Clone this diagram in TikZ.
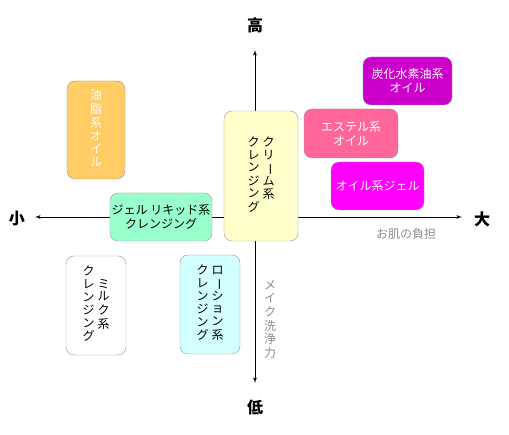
\documentclass[tikz,border=0pt]{standalone}
\usepackage{fontspec}
\setmainfont{Noto Sans CJK JP}
\usepackage{graphicx}
\usetikzlibrary{arrows}

\newcommand{\tate}[1]{{\def\arraystretch{0.9}\begin{tabular}{@{}c@{}}#1\end{tabular}}}
\newcommand{\nobashi}{\rotatebox[origin=c]{-90}{ー}}

\begin{document}
\begin{tikzpicture}[x=1pt,y=-1pt]

\tikzset{box/.style = {draw=black!40, rounded corners=8pt, inner sep=0pt, align=center, font=\fontsize{12}{14}\selectfont}}
\tikzset{axis/.style = {<->,> = latex', line width=0.9pt}}
\tikzset{end/.style = {font=\fontsize{16}{16}\selectfont\bfseries}}
\tikzset{note/.style = {text=black!45, align=center, font=\fontsize{12}{14}\selectfont}}
\useasboundingbox (0,0) rectangle (509,435);
%axes
\coordinate (up) at (255,50);
\coordinate (down) at (255,383);
\coordinate (left) at (35,217);
\coordinate (right) at (462,217);
\draw [axis] (down) -- (up);
\draw [axis] (left) -- (right);
\node[end] (high) at (255,25) {高};
\node[end] (low) at (255,407) {低};
\node[end] (small) at (17,219) {小};
\node[end] (large) at (482,219) {大};
\node[note] (skin) at (406,234) {お肌の負担};
\node[note] (clean) at (270,321) {\tate{メ\\イ\\ク\\洗\\浄\\力}};
%boxes
\node[box, fill={rgb,255:red,255;green,204;blue,102}, text=white, minimum width=58, minimum height=98] (oil) at (96,130) {\tate{油\\脂\\系\\オ\\イ\\ル}};
\node[box, fill={rgb,255:red,153;green,255;blue,204}, minimum width=102, minimum height=48] (gel) at (161,217) {ジェル リキッド系\\クレンジング};
\node[box, fill={rgb,255:red,255;green,255;blue,204}, minimum width=74, minimum height=130] (cream) at (261,176) {\tate{ク\\レ\\ン\\ジ\\ン\\グ}\hspace{3pt}\tate{ク\\リ\\\nobashi\\ム\\系\\{}}};
\node[box, fill={rgb,255:red,204;green,0;blue,204}, text=white, minimum width=89, minimum height=48] (hydro) at (407.5,81) {炭化水素油系\\オイル};
\node[box, fill={rgb,255:red,255;green,102;blue,153}, text=white, minimum width=94, minimum height=49] (ester) at (351,133.5) {エステル系\\オイル};
\node[box, fill={rgb,255:red,255;green,0;blue,255}, text=white, minimum width=93, minimum height=48] (oilgel) at (377.5,186) {オイル系ジェル};
\node[box, fill=white, minimum width=60, minimum height=99] (milk) at (96,305.5) {\tate{ク\\レ\\ン\\ジ\\ン\\グ}\hspace{3pt}\tate{ミ\\ル\\ク\\系}};
\node[box, fill={rgb,255:red,210;green,255;blue,255}, minimum width=60, minimum height=99] (lotion) at (210,304.5) {\tate{ク\\レ\\ン\\ジ\\ン\\グ}\hspace{3pt}\tate{ロ\\\nobashi\\シ\\ョ\\ン\\系}};

\end{tikzpicture}
\end{document}
